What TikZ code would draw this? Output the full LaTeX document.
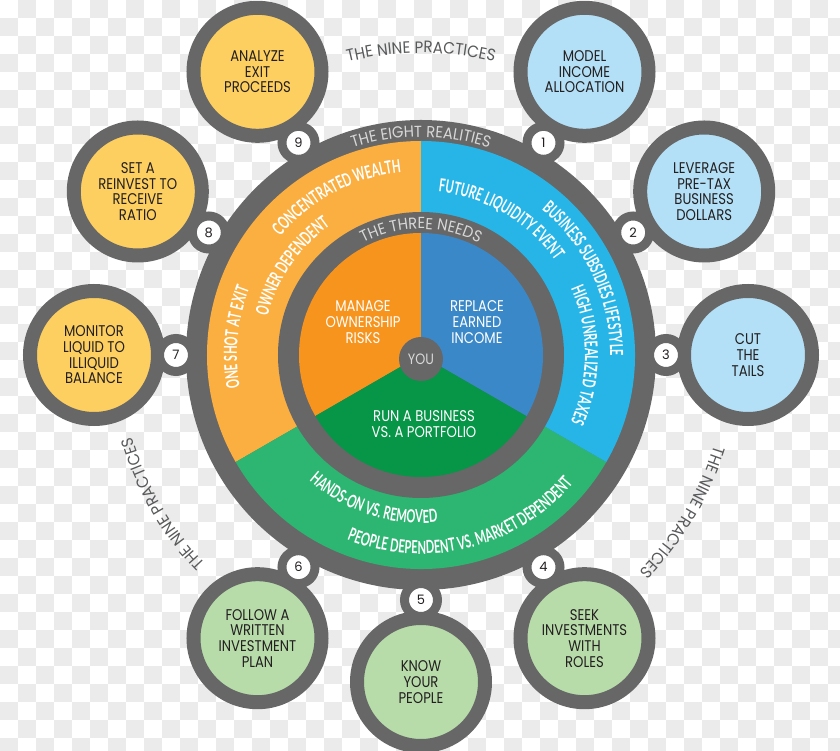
\documentclass[tikz,border=0pt]{standalone}
\usepackage{fontspec}
\usepackage{xcolor}
\usepackage{tikz}
\setmainfont{Poppins}
\newfontfamily\labelfont[FakeStretch=0.85]{Poppins}
\newfontfamily\titlefont[FakeStretch=0.92]{Poppins}
\newfontfamily\ringfont[FakeStretch=0.62]{Lato}
\usetikzlibrary{decorations.text}

\definecolor{ringgray}{RGB}{103,103,103}
\definecolor{checkgray}{RGB}{235,235,235}
\definecolor{darktext}{RGB}{35,31,32}
\definecolor{softtext}{RGB}{88,89,91}
\definecolor{lighttext}{RGB}{216,216,216}
\definecolor{paleyellow}{RGB}{253,207,96}
\definecolor{paleblue}{RGB}{179,224,246}
\definecolor{palegreen}{RGB}{183,220,170}
\definecolor{outerorange}{RGB}{251,175,65}
\definecolor{outerblue}{RGB}{39,181,231}
\definecolor{outergreen}{RGB}{45,181,114}
\definecolor{innerorange}{RGB}{247,148,30}
\definecolor{innerblue}{RGB}{59,136,201}
\definecolor{innergreen}{RGB}{7,149,72}

% text on an arc round the centre: angle, half span (minus = anticlockwise), radius in pt, format, text
\newcommand{\arctext}[5]{%
  \path[decorate,decoration={text along path,text align=center,text={|#4|#5}}]
    ({#1+#2}:#3pt) arc[start angle={#1+#2},end angle={#1-#2},radius=#3pt];}
\newcommand{\ringstyle}{\ringfont\bfseries\fontsize{18}{18}\selectfont\color{white}}
\newcommand{\practicestyle}{\titlefont\fontsize{16.5}{16.5}\selectfont\color{softtext}}
\newcommand{\realitystyle}{\titlefont\fontsize{16}{16}\selectfont\color{lighttext}}

\begin{document}
\begin{tikzpicture}[x=1pt,y=1pt,
  practice/.style={circle,draw=ringgray,line width=14pt,minimum size=128pt,inner sep=0pt,
    align=center,text=darktext,font=\labelfont\fontsize{15.5}{15.7}\selectfont},
  badge/.style={circle,fill=white,draw=ringgray,line width=9pt,minimum size=33pt,inner sep=0pt,
    text=darktext,font=\fontsize{13}{13}\selectfont},
  need/.style={align=center,text=white,font=\labelfont\fontsize{15.5}{15.7}\selectfont}]
\useasboundingbox (-421,-396) rectangle (419,355);

% checkered background
\begin{scope}
\clip (-421,-396) rectangle (419,355);
\foreach \j in {0,2,...,40}
  \foreach \i in {1,3,...,45}
    \fill[checkgray] ({18*\i-421},{337-18*\j}) rectangle ++(18,18);
\foreach \j in {1,3,...,41}
  \foreach \i in {0,2,...,46}
    \fill[checkgray] ({18*\i-421},{337-18*\j}) rectangle ++(18,18);
\end{scope}

% the wheel
\fill[ringgray] (0,0) circle[radius=235pt];
\fill[outerorange] (0,0) -- (90:214pt) arc[start angle=90,end angle=210,radius=214pt] -- cycle;
\fill[outergreen] (0,0) -- (210:214pt) arc[start angle=210,end angle=330,radius=214pt] -- cycle;
\fill[outerblue] (0,0) -- (330:214pt) arc[start angle=330,end angle=450,radius=214pt] -- cycle;
\fill[ringgray] (0,0) circle[radius=143pt];
\fill[innerorange] (0,0) -- (90:122pt) arc[start angle=90,end angle=210,radius=122pt] -- cycle;
\fill[innergreen] (0,0) -- (210:122pt) arc[start angle=210,end angle=330,radius=122pt] -- cycle;
\fill[innerblue] (0,0) -- (330:122pt) arc[start angle=330,end angle=450,radius=122pt] -- cycle;
\node[circle,fill=ringgray,minimum size=44pt,inner sep=0pt,text=lighttext,
  font=\labelfont\fontsize{15}{15}\selectfont] (you) at (0,-4) {YOU};

% the nine practices
\node[practice,fill=paleblue] (model) at (60:327) {MODEL\\INCOME\\ALLOCATION};
\node[practice,fill=paleblue] (leverage) at (30:327) {LEVERAGE\\PRE-TAX\\BUSINESS\\DOLLARS};
\node[practice,fill=paleblue] (tails) at (0:327) {CUT\\THE\\TAILS};
\node[practice,fill=palegreen] (seek) at (-60:327) {SEEK\\INVESTMENTS\\WITH\\ROLES};
\node[practice,fill=palegreen] (know) at (-90:327) {KNOW\\YOUR\\PEOPLE};
\node[practice,fill=palegreen] (follow) at (-120:327) {FOLLOW A\\WRITTEN\\INVESTMENT\\PLAN};
\node[practice,fill=paleyellow] (monitor) at (180:327) {MONITOR\\LIQUID TO\\ILLIQUID\\BALANCE};
\node[practice,fill=paleyellow] (reinvest) at (150:327) {SET A\\REINVEST TO\\RECEIVE\\RATIO};
\node[practice,fill=paleyellow] (analyze) at (120:327) {ANALYZE\\EXIT\\PROCEEDS};

\node[badge] (b1) at (60:245) {1};
\node[badge] (b2) at (30:245) {2};
\node[badge] (b3) at (0:245) {3};
\node[badge] (b4) at (-60:245) {4};
\node[badge] (b5) at (-90:245) {5};
\node[badge] (b6) at (-120:245) {6};
\node[badge] (b7) at (180:245) {7};
\node[badge] (b8) at (150:245) {8};
\node[badge] (b9) at (120:245) {9};

% the three needs
\node[need] (manage) at (-58,33) {MANAGE\\OWNERSHIP\\RISKS};
\node[need] (replace) at (56,33) {REPLACE\\EARNED\\INCOME};
\node[need] (run) at (3,-69) {RUN A BUSINESS\\VS. A PORTFOLIO};

% ring titles
\arctext{90}{40}{302}{\practicestyle}{THE NINE PRACTICES}
\arctext{-31}{40}{307}{\practicestyle}{THE NINE PRACTICES}
\arctext{210}{40}{300}{\practicestyle}{THE NINE PRACTICES}
\arctext{90}{40}{218}{\realitystyle}{THE EIGHT REALITIES}
\arctext{90}{45}{126}{\realitystyle}{THE THREE NEEDS}

% the eight realities
\arctext{118}{40}{184}{\ringstyle}{CONCENTRATED WEALTH}
\arctext{145.5}{40}{158}{\ringstyle}{OWNER DEPENDENT}
\arctext{174.5}{40}{184}{\ringstyle}{ONE SHOT AT EXIT}
\arctext{59.5}{40}{164}{\ringstyle}{FUTURE LIQUIDITY EVENT}
\arctext{25}{45}{189}{\ringstyle}{BUSINESS SUBSIDIES LIFESTYLE}
\arctext{0}{40}{164}{\ringstyle}{HIGH UNREALIZED TAXES}
\arctext{252}{-40}{168}{\ringstyle}{HANDS-ON VS. REMOVED}
\arctext{284}{-50}{199}{\ringstyle}{PEOPLE DEPENDENT VS. MARKET DEPENDENT}
\end{tikzpicture}
\end{document}
